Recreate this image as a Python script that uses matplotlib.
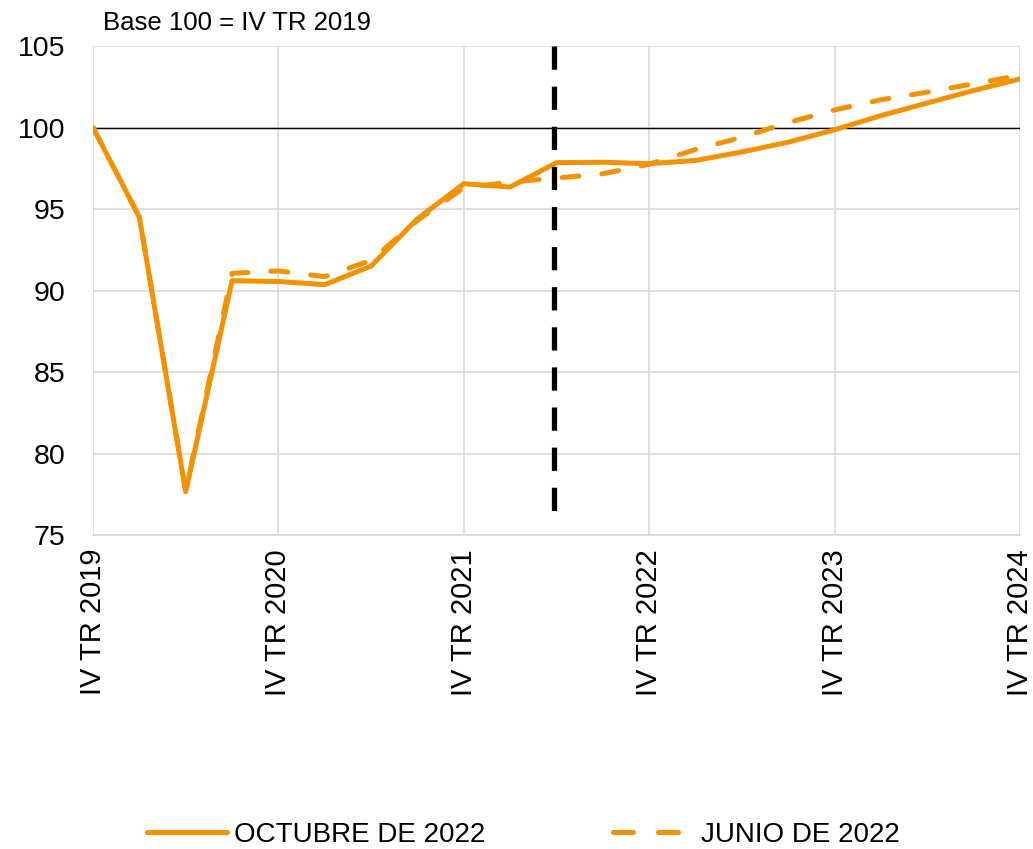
import matplotlib.pyplot as plt
from matplotlib.lines import Line2D

plt.rcParams['font.family'] = ['Liberation Sans', 'DejaVu Sans']

# quarters from IV TR 2019 (0) to IV TR 2024 (20)
quarters = list(range(21))
tickPos = [0, 4, 8, 12, 16, 20]
tickLabels = ['IV TR 2019', 'IV TR 2020', 'IV TR 2021', 'IV TR 2022', 'IV TR 2023', 'IV TR 2024']

octubre = [100.0, 94.5, 77.65, 90.6, 90.55, 90.36, 91.5, 94.4, 96.55, 96.35, 97.84,
           97.87, 97.78, 97.98, 98.5, 99.1, 99.86, 100.73, 101.5, 102.27, 102.98]
junio = [100.0, 94.5, 77.7, 91.05, 91.2, 90.85, 91.85, 94.3, 96.3, 96.65, 96.9,
         97.16, 97.75, 98.65, 99.4, 100.3, 101.08, 101.7, 102.17, 102.68, 103.2]

cutQuarter = 9.95
orange = '#F39200'

fig = plt.figure(figsize=(10.33, 8.49), dpi=100)
ax = fig.add_axes([93 / 1033, 1 - 535 / 849, 927 / 1033, 489 / 849])

ax.set_xlim(0, 20)
ax.set_ylim(75, 105)
ax.set_yticks([75, 80, 85, 90, 95, 100, 105])
ax.set_xticks(tickPos)
ax.set_xticklabels(tickLabels, rotation=90)
ax.tick_params(axis='both', length=0)
ax.tick_params(axis='y', pad=20, labelsize=20.5)
ax.tick_params(axis='x', pad=10, labelsize=21)
ax.grid(True, color='#d9d9d9', linewidth=1.2)
ax.set_axisbelow(True)
for s in ax.spines.values():
    s.set_visible(False)
ax.plot([0, 20], [75, 75], color='#d9d9d9', linewidth=1.2, zorder=1, clip_on=False)

ax.axhline(100, color='black', linewidth=1, zorder=2)

ax.plot(quarters, junio, color=orange, linewidth=3.6, linestyle=(0, (3.4, 4.6)),
        dash_capstyle='round', zorder=3)
ax.plot(quarters, octubre, color=orange, linewidth=3.6, solid_capstyle='round',
        solid_joinstyle='round', zorder=4)

ax.plot([cutQuarter, cutQuarter], [105, 75.7], color='black', linewidth=3.8,
        linestyle=(0, (4.4, 3.2)), zorder=5, clip_on=False)

fig.text(103 / 1033, 1 - 23 / 849, 'Base 100 = IV TR 2019', fontsize=18.5, va='center', ha='left')

handles = [Line2D([], [], color=orange, linewidth=3.6, solid_capstyle='round'),
           Line2D([], [], color=orange, linewidth=3.6, linestyle=(0, (4, 5)), dash_capstyle='round')]
fig.legend(handles, ['OCTUBRE DE 2022', 'JUNIO DE 2022'], loc='center',
           bbox_to_anchor=(523 / 1033, 1 - 835 / 849), ncol=2, frameon=False,
           fontsize=20, handlelength=2.9, handletextpad=0.25, columnspacing=4.6)

fig.savefig('out.png', dpi=100)
